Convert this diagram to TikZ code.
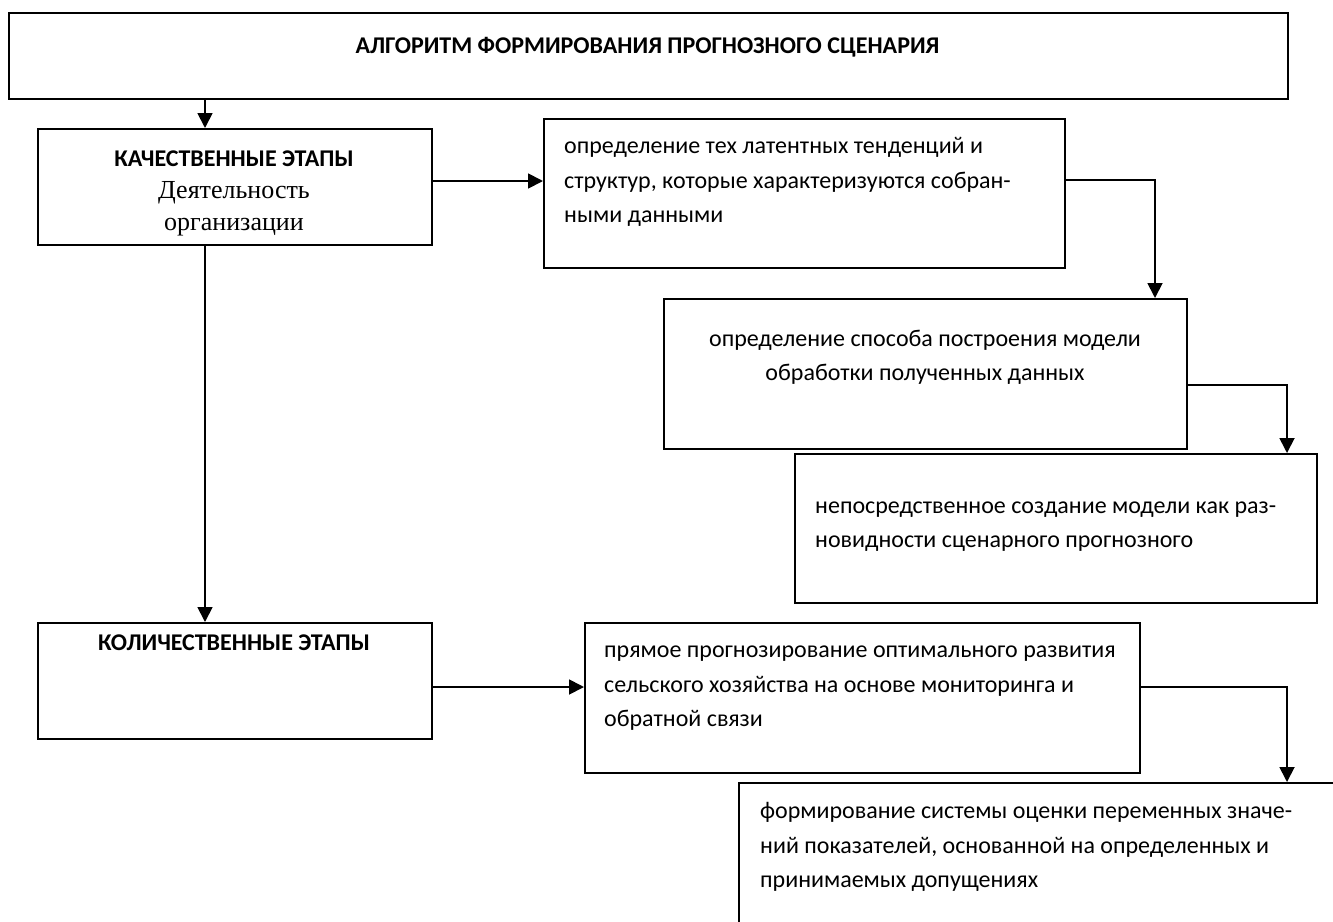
\documentclass[tikz,border=0pt]{standalone}
\usepackage{fontspec}
\setmainfont{Carlito}
\newfontfamily\timesfont{Liberation Serif}
\usetikzlibrary{arrows.meta}
\begin{document}
\begin{tikzpicture}[x=1pt,y=-1pt,
  box/.style={draw, line width=1.8pt, inner sep=0pt, anchor=north west},
  conn/.style={line width=1.8pt, -{Triangle[width=15pt,length=15pt]}},
  body/.style={inner sep=0pt, font=\fontsize{24}{28}\selectfont, anchor=base west},
  bodyc/.style={inner sep=0pt, font=\fontsize{24}{28}\selectfont, anchor=base},
  hdr/.style={inner sep=0pt, font=\fontsize{24}{28}\bfseries\selectfont, anchor=base},
  tms/.style={inner sep=0pt, font=\fontsize{26}{30}\timesfont, anchor=base},
]
\useasboundingbox (0,0) rectangle (1333,921);
% boxes
\node[box, minimum width=1279pt, minimum height=86pt] (T) at (8,12) {};
\node[box, minimum width=394pt, minimum height=116pt] (A) at (37,128) {};
\node[box, minimum width=521pt, minimum height=149pt] (B) at (543,118) {};
\node[box, minimum width=523pt, minimum height=150pt] (C) at (663,298) {};
\node[box, minimum width=522pt, minimum height=149pt] (Dp) at (794,453) {};
\node[box, minimum width=394pt, minimum height=116pt] (D) at (37,622) {};
\node[box, minimum width=555pt, minimum height=150pt] (E) at (584,622) {};
\node[box, minimum width=700pt, minimum height=300pt] (F) at (738,782) {};
% texts
\node[hdr] (Tt) at (647.5,53) {АЛГОРИТМ ФОРМИРОВАНИЯ ПРОГНОЗНОГО СЦЕНАРИЯ};
\node[hdr] (At) at (234,166) {КАЧЕСТВЕННЫЕ ЭТАПЫ};
\node[tms] (A2) at (234,198) {Деятельность};
\node[tms] (A3) at (234,230) {организации};
\node[body] (B1) at (564,153) {определение тех латентных тенденций и};
\node[body] (B2) at (564,188) {структур, которые характеризуются собран-};
\node[body] (B3) at (564,222) {ными данными};
\node[bodyc] (C1) at (925,346) {определение способа построения модели};
\node[bodyc] (C2) at (925,380) {обработки полученных данных};
\node[body] (Dp1) at (815,513) {непосредственное создание модели как раз-};
\node[body] (Dp2) at (815,547) {новидности сценарного прогнозного};
\node[hdr] (Dt) at (234,650) {КОЛИЧЕСТВЕННЫЕ ЭТАПЫ};
\node[body] (E1) at (604,657) {прямое прогнозирование оптимального развития};
\node[body] (E2) at (604,692) {сельского хозяйства на основе мониторинга и};
\node[body] (E3) at (604,726) {обратной связи};
\node[body] (F1) at (760,818) {формирование системы оценки переменных значе-};
\node[body] (F2) at (760,853) {ний показателей, основанной на определенных и};
\node[body] (F3) at (760,887) {принимаемых допущениях};
% connector guides
\coordinate (xL) at (205,0);
\coordinate (xR1) at (1155,0);
\coordinate (xR2) at (1287,0);
\coordinate (yAB) at (0,181);
\coordinate (yBC) at (0,180);
\coordinate (yCD) at (0,385);
\coordinate (yDE) at (0,687);
% connectors
\draw[conn] (T.south -| xL) -- (A.north -| xL);
\draw[conn] (A.east |- yAB) -- (B.west |- yAB);
\draw[conn] (B.east |- yBC) -| (C.north -| xR1);
\draw[conn] (C.east |- yCD) -| (Dp.north -| xR2);
\draw[conn] (A.south -| xL) -- (D.north -| xL);
\draw[conn] (D.east |- yDE) -- (E.west |- yDE);
\draw[conn] (E.east |- yDE) -| (F.north -| xR2);
\end{tikzpicture}
\end{document}
